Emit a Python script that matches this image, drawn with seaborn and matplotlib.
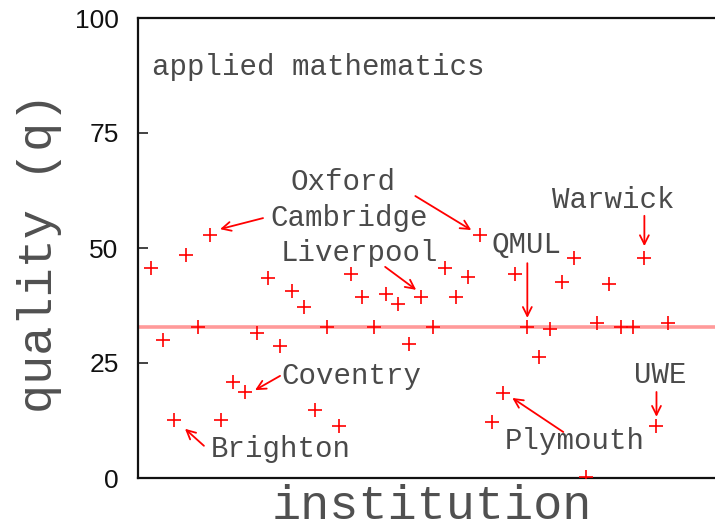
import numpy as np
import pandas as pd
import matplotlib
matplotlib.use("Agg")
import matplotlib.pyplot as plt
import seaborn as sns

# ---------------- data ----------------
institution_index = list(range(1, 46))
quality = [45.7, 30.1, 12.6, 48.4, 32.8, 52.8, 12.6, 20.8, 18.6, 31.5,
           43.5, 28.7, 40.6, 37.2, 14.8, 32.8, 11.3, 44.3, 39.3, 32.8,
           40.0, 37.8, 29.2, 39.4, 32.8, 45.7, 39.4, 43.8, 52.8, 12.2,
           18.5, 44.3, 32.8, 26.4, 32.3, 42.7, 47.9, 0.2, 33.6, 42.1,
           32.8, 32.8, 47.9, 11.3, 33.6]
reference_line = 32.8

# annotation names, text positions, arrow tails and heads (data coords)
ann_names = ["Oxford", "Cambridge", "Liverpool", "QMUL", "Warwick",
             "Coventry", "Brighton", "Plymouth", "UWE"]
ann_text_xy = [(17.35, 64.3), (17.87, 56.5), (18.72, 48.9), (32.94, 50.65),
               (40.35, 60.4), (18.04, 22.2), (12.07, 6.3), (37.03, 8.0),
               (44.36, 22.4)]
ann_tail = [(23.5, 61.3), (10.54, 56.5), (20.93, 45.9), (33.03, 46.7),
            (42.99, 57.0), (11.99, 22.2), (5.51, 7.0), (36.09, 10.0),
            (44.02, 18.7)]
ann_head = [(28.26, 53.9), (6.88, 54.1), (23.57, 40.9), (33.03, 34.8),
            (42.99, 50.4), (9.86, 19.1), (3.90, 10.7), (31.75, 17.4),
            (44.02, 13.3)]
subject = "applied mathematics"
y_ticks = [0, 25, 50, 75, 100]

df = pd.DataFrame({"institution": institution_index, "quality": quality})

# ---------------- style ----------------
sns.set_theme(style="white")
plt.rcParams["font.family"] = ["Liberation Mono", "DejaVu Sans"]

fig = plt.figure(figsize=(7.15, 5.30), dpi=100)
ax = fig.add_axes([138 / 715, 1 - 478 / 530, 577 / 715, 460 / 530])

ax.axhline(reference_line, color="#ff9a9a", lw=2.6, zorder=1)

sns.scatterplot(data=df, x="institution", y="quality", marker="+",
                color="#ff0000", s=110, linewidth=1.2, ax=ax, zorder=3,
                legend=False)

ax.set_xlim(-0.1, 49.0)
ax.set_ylim(0, 100)
ax.set_xticks([])
ax.set_yticks(y_ticks)
ax.set_yticklabels([str(t) for t in y_ticks], family="Liberation Sans",
                   fontsize=19, color="#111111")
ax.tick_params(axis="y", direction="in", length=7, width=1.2, pad=14,
               left=True, color="#222222")

for side in ["left", "top", "bottom"]:
    ax.spines[side].set_visible(True)
    ax.spines[side].set_color("#111111")
    ax.spines[side].set_linewidth(1.6)
ax.spines["right"].set_visible(False)

label_color = "#505050"
ax.set_ylabel("quality (q)", fontsize=35, color=label_color)
ax.yaxis.set_label_coords(-0.132, 0.49)
ax.set_xlabel("institution", fontsize=35, color=label_color)
ax.xaxis.set_label_coords(0.51, -0.012)

text_color = "#4a4a4a"
ax.text(1.09, 89.3, subject, fontsize=21, color=text_color,
        ha="left", va="center")

for name, txy, tail, head in zip(ann_names, ann_text_xy, ann_tail, ann_head):
    ax.text(txy[0], txy[1], name, fontsize=21, color=text_color,
            ha="center", va="center", zorder=4)
    ax.annotate("", xy=head, xytext=tail,
                arrowprops=dict(arrowstyle="->", color="#ff0000", lw=1.3,
                                mutation_scale=16, shrinkA=0, shrinkB=0))

fig.savefig("out.png", dpi=100)
